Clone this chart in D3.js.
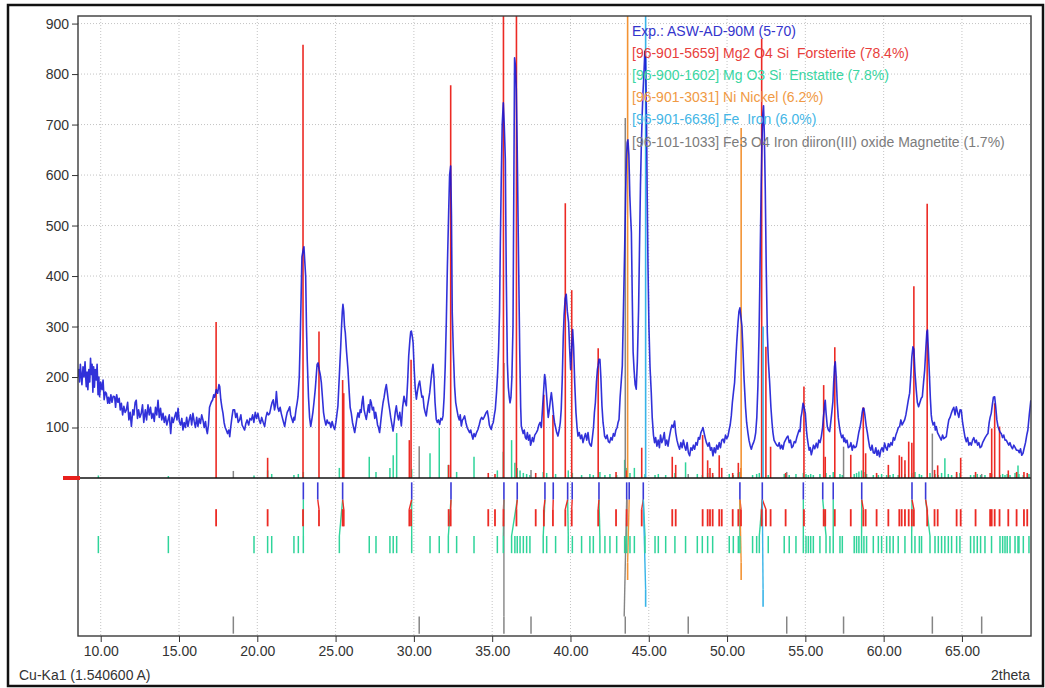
<!DOCTYPE html>
<html>
<head>
<meta charset="utf-8">
<script src="https://cdn.jsdelivr.net/npm/d3@7"></script>
<style>
  body { margin: 0; background: #fff; }
  text { font-family: "Liberation Sans", Arial, sans-serif; }
</style>
</head>
<body>
<div id="chart"></div>
<script>
// measured pattern, [2theta, counts]
var pattern = [
  [8.55,200],[8.60,215],[8.65,190],[8.70,225],[8.75,205],[8.80,185],[8.87,220],[8.93,200],[9.00,230],[9.05,195],
  [9.08,181],[9.13,210],[9.18,175],[9.24,215],[9.30,190],[9.35,237],[9.40,205],[9.45,225],[9.50,170],[9.55,220],
  [9.60,180],[9.65,215],[9.72,194],[9.77,225],[9.83,165],[9.88,200],[9.93,161],[10.00,190],[10.08,175],[10.15,194],
  [10.22,155],[10.30,170],[10.36,168],[10.45,148],[10.50,160],[10.57,148],[10.65,165],[10.72,150],[10.80,162],[10.89,161],
  [10.95,140],[11.02,165],[11.10,150],[11.18,158],[11.25,135],[11.32,148],[11.40,125],[11.48,142],[11.56,130],[11.64,135],
  [11.72,150],[11.80,115],[11.88,130],[11.96,102],[12.05,135],[12.12,125],[12.20,150],[12.27,154],[12.35,118],[12.42,135],
  [12.50,120],[12.59,128],[12.67,145],[12.75,110],[12.85,135],[12.93,115],[13.02,145],[13.10,125],[13.18,140],[13.26,118],
  [13.34,128],[13.42,112],[13.50,140],[13.58,125],[13.66,154],[13.74,120],[13.82,138],[13.90,115],[13.98,128],[14.06,110],
  [14.14,122],[14.22,105],[14.30,115],[14.38,125],[14.47,88],[14.55,120],[14.63,110],[14.72,121],[14.80,130],[14.87,115],
  [14.94,138],[15.02,112],[15.10,105],[15.18,118],[15.25,95],[15.33,110],[15.41,100],[15.49,120],[15.57,102],[15.65,115],
  [15.73,125],[15.81,105],[15.89,128],[15.97,112],[16.05,100],[16.13,120],[16.21,102],[16.29,118],[16.37,108],[16.45,125],
  [16.53,115],[16.61,100],[16.69,112],[16.76,95],[16.81,88],[16.88,105],[16.95,140],[17.06,150],[17.15,155],[17.22,165],
  [17.28,160],[17.38,175],[17.47,168],[17.55,185],[17.60,181],[17.67,155],[17.74,140],[17.81,128],[17.88,110],[17.95,100],
  [18.02,95],[18.10,88],[18.18,95],[18.24,82],[18.30,100],[18.38,120],[18.45,135],[18.55,135],[18.62,120],[18.70,128],
  [18.78,110],[18.87,115],[18.95,125],[19.03,105],[19.11,100],[19.19,95],[19.27,108],[19.35,115],[19.45,105],[19.53,118],
  [19.62,115],[19.70,125],[19.78,110],[19.87,130],[19.95,118],[20.04,128],[20.12,115],[20.20,108],[20.28,120],[20.38,110],
  [20.47,102],[20.55,120],[20.63,130],[20.71,125],[20.79,128],[20.87,140],[20.95,150],[21.02,155],[21.10,135],[21.16,145],
  [21.22,171],[21.30,140],[21.38,132],[21.46,140],[21.53,128],[21.61,118],[21.68,110],[21.75,102],[21.83,118],[21.91,130],
  [21.99,135],[22.07,141],[22.13,125],[22.20,118],[22.28,110],[22.34,120],[22.39,115],[22.47,135],[22.55,150],[22.60,161],
  [22.68,200],[22.74,273],[22.80,360],[22.85,438],[22.92,450],[22.98,458],[23.03,430],[23.09,399],[23.14,300],[23.19,234],
  [23.27,160],[23.34,120],[23.41,102],[23.48,115],[23.55,130],[23.62,150],[23.70,175],[23.76,200],[23.82,225],[23.88,228],
  [23.95,215],[24.02,205],[24.09,189],[24.16,160],[24.23,130],[24.30,116],[24.38,105],[24.46,115],[24.54,108],[24.62,110],
  [24.70,100],[24.78,112],[24.86,102],[24.94,96],[25.02,110],[25.08,125],[25.15,143],[25.22,190],[25.28,230],[25.32,255],
  [25.38,300],[25.43,330],[25.47,344],[25.52,330],[25.57,300],[25.62,288],[25.70,250],[25.79,215],[25.87,170],[25.93,140],
  [26.00,129],[26.08,110],[26.15,100],[26.22,90],[26.30,105],[26.36,118],[26.43,129],[26.50,120],[26.57,135],[26.63,130],
  [26.69,150],[26.75,162],[26.82,135],[26.89,125],[26.96,116],[27.03,130],[27.10,145],[27.16,130],[27.22,155],[27.28,149],
  [27.35,135],[27.42,140],[27.50,118],[27.56,130],[27.60,123],[27.68,105],[27.74,100],[27.81,90],[27.88,110],[27.95,130],
  [28.03,149],[28.10,160],[28.17,175],[28.24,185],[28.30,170],[28.38,150],[28.45,136],[28.52,120],[28.60,105],[28.67,93],
  [28.74,110],[28.81,130],[28.88,143],[28.95,125],[29.02,115],[29.10,130],[29.20,103],[29.28,140],[29.37,162],[29.45,150],
  [29.52,143],[29.60,190],[29.67,242],[29.75,275],[29.80,290],[29.84,291],[29.90,280],[29.95,268],[30.02,215],[30.08,180],
  [30.16,156],[30.22,170],[30.30,185],[30.37,192],[30.44,175],[30.51,160],[30.58,162],[30.65,140],[30.72,130],[30.79,123],
  [30.86,140],[30.94,155],[31.01,169],[31.08,190],[31.15,210],[31.22,225],[31.28,200],[31.35,150],[31.43,116],[31.50,110],
  [31.57,115],[31.65,106],[31.72,118],[31.80,115],[31.86,123],[31.93,160],[32.00,220],[32.07,308],[32.14,420],[32.22,525],
  [32.28,600],[32.35,618],[32.40,520],[32.45,327],[32.52,250],[32.60,182],[32.67,150],[32.75,135],[32.82,123],[32.90,115],
  [32.96,125],[33.03,103],[33.10,115],[33.17,118],[33.24,123],[33.32,110],[33.40,100],[33.48,95],[33.56,90],[33.63,95],
  [33.70,85],[33.77,77],[33.84,88],[33.92,82],[34.00,90],[34.09,96],[34.17,105],[34.25,115],[34.33,120],[34.41,116],
  [34.48,120],[34.55,125],[34.62,130],[34.69,133],[34.76,120],[34.82,105],[34.88,100],[34.94,96],[35.00,105],[35.07,110],
  [35.14,125],[35.20,136],[35.28,170],[35.35,210],[35.41,255],[35.47,330],[35.52,460],[35.58,591],[35.64,700],[35.71,743],
  [35.77,700],[35.84,631],[35.90,400],[35.97,228],[36.03,180],[36.09,160],[36.14,149],[36.20,160],[36.26,200],[36.33,301],
  [36.38,560],[36.43,832],[36.49,815],[36.54,770],[36.60,650],[36.69,420],[36.76,250],[36.82,140],[36.86,103],[36.92,95],
  [36.98,88],[37.05,95],[37.12,80],[37.18,77],[37.25,90],[37.32,75],[37.40,85],[37.45,65],[37.50,70],[37.57,80],
  [37.64,72],[37.72,85],[37.82,90],[37.90,95],[37.98,105],[38.06,110],[38.14,100],[38.22,140],[38.30,180],[38.35,205],
  [38.40,195],[38.46,170],[38.52,143],[38.58,120],[38.65,135],[38.72,155],[38.78,169],[38.85,150],[38.92,125],[38.98,110],
  [39.05,100],[39.12,90],[39.20,83],[39.28,95],[39.35,110],[39.41,136],[39.48,200],[39.54,280],[39.59,321],[39.66,355],
  [39.73,364],[39.80,330],[39.88,308],[39.94,260],[40.01,215],[40.07,250],[40.14,294],[40.20,260],[40.27,189],[40.35,130],
  [40.42,100],[40.48,83],[40.56,90],[40.64,78],[40.72,85],[40.80,70],[40.88,80],[40.96,88],[41.04,75],[41.12,90],
  [41.20,70],[41.27,65],[41.33,63],[41.40,80],[41.47,100],[41.53,130],[41.59,149],[41.66,190],[41.72,215],[41.76,222],
  [41.82,235],[41.88,235],[41.94,200],[42.01,143],[42.08,110],[42.14,95],[42.18,83],[42.26,78],[42.34,85],[42.42,72],
  [42.50,70],[42.58,80],[42.66,75],[42.74,88],[42.82,83],[42.90,95],[42.98,100],[43.04,110],[43.10,116],[43.17,160],
  [43.24,190],[43.31,222],[43.38,330],[43.46,453],[43.52,560],[43.57,631],[43.62,664],[43.67,670],[43.73,640],[43.79,560],
  [43.84,520],[43.89,486],[43.95,350],[44.00,250],[44.06,215],[44.13,185],[44.20,176],[44.27,230],[44.35,334],[44.42,480],
  [44.47,580],[44.52,651],[44.58,720],[44.63,763],[44.69,800],[44.75,845],[44.80,829],[44.86,700],[44.90,560],[44.95,420],
  [45.01,300],[45.08,220],[45.16,169],[45.22,120],[45.30,85],[45.37,70],[45.44,80],[45.52,63],[45.60,75],[45.68,60],
  [45.75,85],[45.83,70],[45.91,77],[45.99,90],[46.07,65],[46.15,75],[46.23,63],[46.31,80],[46.40,95],[46.48,105],
  [46.56,100],[46.65,113],[46.72,90],[46.80,75],[46.88,65],[46.97,57],[47.05,70],[47.13,60],[47.21,75],[47.29,63],
  [47.37,55],[47.45,70],[47.53,50],[47.61,44],[47.69,60],[47.77,55],[47.85,65],[47.93,57],[48.01,70],[48.09,65],
  [48.17,80],[48.25,77],[48.33,90],[48.40,95],[48.46,100],[48.53,90],[48.60,80],[48.68,70],[48.78,63],[48.86,70],
  [48.94,55],[49.02,60],[49.10,44],[49.18,60],[49.26,50],[49.34,65],[49.42,57],[49.50,70],[49.58,60],[49.66,75],
  [49.74,77],[49.82,70],[49.90,85],[49.98,78],[50.06,83],[50.13,95],[50.20,105],[50.27,123],[50.34,150],[50.41,170],
  [50.48,189],[50.55,230],[50.62,270],[50.70,308],[50.76,330],[50.82,337],[50.88,320],[50.95,301],[51.02,250],[51.08,200],
  [51.12,176],[51.18,140],[51.25,110],[51.33,90],[51.40,75],[51.47,65],[51.55,57],[51.62,65],[51.69,70],[51.76,77],
  [51.83,90],[51.90,120],[51.97,182],[52.04,280],[52.09,380],[52.12,453],[52.18,580],[52.23,664],[52.28,720],[52.33,737],
  [52.38,680],[52.44,572],[52.50,420],[52.57,288],[52.64,230],[52.72,189],[52.80,140],[52.87,110],[52.93,90],[53.00,75],
  [53.08,70],[53.17,65],[53.25,63],[53.33,70],[53.41,58],[53.49,65],[53.57,57],[53.65,70],[53.73,75],[53.81,80],
  [53.89,83],[53.97,70],[54.05,75],[54.13,60],[54.21,63],[54.29,72],[54.37,70],[54.45,80],[54.53,88],[54.60,95],
  [54.66,92],[54.72,120],[54.78,130],[54.85,148],[54.92,140],[55.00,128],[55.07,95],[55.12,80],[55.17,69],[55.24,55],
  [55.31,60],[55.38,46],[55.45,55],[55.52,65],[55.60,58],[55.70,69],[55.78,60],[55.86,75],[55.94,70],[56.02,82],
  [56.10,100],[56.15,120],[56.19,131],[56.24,148],[56.27,154],[56.32,130],[56.40,102],[56.47,95],[56.55,92],[56.62,110],
  [56.69,130],[56.76,152],[56.81,190],[56.86,220],[56.91,230],[56.97,200],[57.04,148],[57.10,120],[57.18,100],[57.25,88],
  [57.32,80],[57.40,85],[57.46,72],[57.51,79],[57.58,70],[57.66,75],[57.74,60],[57.83,62],[57.91,70],[57.99,55],
  [58.07,65],[58.15,60],[58.25,62],[58.33,75],[58.41,90],[58.49,100],[58.57,115],[58.63,130],[58.68,138],[58.74,138],
  [58.80,125],[58.89,102],[58.96,90],[59.03,75],[59.10,62],[59.18,55],[59.26,65],[59.34,50],[59.42,49],[59.50,60],
  [59.58,45],[59.66,55],[59.74,42],[59.82,55],[59.90,60],[59.98,52],[60.06,69],[60.14,60],[60.22,55],[60.30,68],
  [60.38,62],[60.46,70],[60.54,65],[60.62,80],[60.70,75],[60.78,85],[60.86,92],[60.94,100],[61.02,102],[61.10,115],
  [61.18,105],[61.26,110],[61.34,115],[61.42,125],[61.50,140],[61.58,155],[61.66,168],[61.73,200],[61.80,240],[61.87,260],
  [61.93,255],[62.00,210],[62.08,175],[62.15,150],[62.23,141],[62.32,150],[62.40,158],[62.47,161],[62.55,190],[62.62,214],
  [62.70,260],[62.76,290],[62.80,293],[62.86,250],[62.91,214],[62.98,160],[63.04,125],[63.08,115],[63.16,105],[63.24,110],
  [63.30,95],[63.36,102],[63.44,90],[63.52,85],[63.60,80],[63.68,75],[63.76,85],[63.84,78],[63.92,80],[64.00,82],
  [64.08,100],[64.16,115],[64.24,120],[64.32,128],[64.40,135],[64.48,140],[64.56,125],[64.64,141],[64.72,130],[64.80,120],
  [64.88,135],[64.96,134],[65.04,110],[65.12,95],[65.20,80],[65.28,72],[65.36,80],[65.44,65],[65.52,70],[65.60,65],
  [65.68,75],[65.76,80],[65.84,70],[65.92,75],[66.00,65],[66.08,70],[66.16,60],[66.24,62],[66.32,70],[66.40,75],
  [66.48,80],[66.58,85],[66.66,88],[66.74,110],[66.80,120],[66.87,128],[66.94,145],[67.01,160],[67.09,161],[67.16,140],
  [67.23,115],[67.30,102],[67.38,95],[67.45,90],[67.51,88],[67.59,80],[67.67,85],[67.75,75],[67.83,75],[67.91,70],
  [67.99,65],[68.07,70],[68.15,62],[68.23,58],[68.31,65],[68.40,60],[68.48,55],[68.58,55],[68.66,50],[68.74,58],
  [68.82,45],[68.90,49],[68.98,60],[69.06,70],[69.14,85],[69.21,95],[69.30,125],[69.40,154]
];

// reference patterns, [2theta, intensity]
var forsterite = [
  [17.37,309],[20.66,40],[22.92,858],[23.94,290],[25.45,194],[25.52,168],[29.71,75],[29.82,234],[32.22,26],[32.35,778],
  [34.75,10],[35.18,8],[35.72,1000],[36.55,1000],[37.78,10],[38.30,165],[38.88,125],[39.67,544],[40.08,372],[41.77,257],
  [42.91,12],[43.59,15],[44.55,60],[46.50,42],[46.72,26],[48.44,85],[48.76,35],[48.91,20],[49.08,10],[49.50,45],
  [49.66,20],[50.36,10],[50.72,30],[50.89,20],[52.21,870],[52.48,260],[52.78,62],[53.74,10],[54.91,181],[56.17,184],
  [56.27,42],[56.88,259],[57.90,46],[58.70,140],[58.85,49],[59.55,10],[60.30,26],[61.00,45],[61.15,42],[61.36,35],
  [61.60,72],[61.80,70],[61.93,380],[62.78,543],[63.25,16],[63.45,25],[64.66,12],[64.92,40],[65.87,12],[66.80,10],
  [66.90,98],[67.09,148],[67.40,102],[67.96,15],[68.49,12],[68.96,12],[69.17,10]
];
var enstatite = [
  [9.85,5],[14.32,4],[19.79,5],[20.66,15],[20.92,8],[22.34,6],[22.62,8],[22.94,12],[25.24,20],[27.15,42],
  [27.58,12],[28.47,20],[28.68,45],[28.90,89],[29.86,18],[31.03,49],[31.62,99],[32.20,26],[32.73,12],[33.84,42],
  [35.33,15],[35.71,52],[36.24,75],[36.45,30],[36.60,20],[36.78,15],[36.99,10],[37.20,8],[37.41,6],[38.26,12],
  [38.48,10],[39.05,8],[39.86,15],[40.12,10],[40.71,6],[41.24,8],[41.46,6],[41.88,12],[42.20,6],[42.52,8],
  [42.95,6],[43.46,36],[43.59,20],[43.80,10],[44.08,20],[44.76,8],[45.40,6],[45.61,8],[46.08,6],[46.67,10],
  [47.35,31],[48.10,8],[48.42,6],[48.76,10],[49.08,6],[50.14,8],[50.40,6],[50.72,10],[50.82,12],[51.63,6],
  [51.89,8],[52.06,10],[52.63,6],[53.65,8],[53.97,6],[54.40,8],[54.87,10],[55.04,8],[55.19,6],[55.34,8],
  [55.51,6],[55.93,8],[56.32,10],[56.57,6],[56.78,12],[57.21,8],[57.36,6],[58.12,8],[58.27,10],[58.42,13],
  [58.59,15],[58.74,12],[58.91,8],[59.34,6],[59.66,6],[59.87,8],[60.19,6],[60.40,6],[60.61,8],[60.93,6],
  [61.36,8],[61.79,10],[62.00,12],[62.28,8],[62.42,6],[62.96,10],[63.28,8],[63.49,6],[63.70,10],[63.91,39],
  [64.13,8],[64.34,6],[64.66,8],[64.87,10],[65.55,6],[65.77,6],[65.98,8],[66.19,6],[66.47,6],[66.89,8],
  [67.43,6],[67.60,8],[67.75,6],[67.89,8],[68.07,6],[68.39,10],[68.58,25],[68.64,8],[68.92,6],[69.28,8]
];
var nickel = [[43.65,1000],[50.90,693]];
var iron = [[44.80,1000],[52.30,300]];
var magnetite = [
  [18.47,14],[30.34,63],[35.75,228],[37.48,16],[43.50,713],[47.52,8],[53.81,12],[57.44,62],[63.11,88],[66.26,8]
];

// peak positions found in the measured pattern
var expPeaks = [22.94,23.86,25.45,29.86,32.37,35.75,36.60,38.37,38.90,39.82,40.11,41.82,43.59,43.75,44.65,
  50.82,52.25,54.87,56.11,56.78,58.60,61.81,62.68];

// matched pairs [exp peak, reference peak]
var foLinks = [[23.86,23.94],[25.45,25.52],[29.86,29.71],[32.37,32.35],[35.75,35.72],[36.60,36.55],[38.37,38.30],
  [38.90,38.88],[39.82,39.67],[40.11,40.08],[41.82,41.77],[43.59,43.59],[44.65,44.55],[50.82,50.89],[52.25,52.21],
  [52.25,52.48],[58.60,58.70],[61.81,61.93],[62.68,62.78]];
var enLinks = [[22.94,22.94],[25.45,25.24],[29.86,29.86],[32.37,32.20],[35.75,35.71],[36.60,36.24],[38.37,38.26],
  [39.82,39.86],[41.82,41.88],[43.59,43.59],[44.65,44.76],[50.82,50.82],[52.25,52.06],[54.87,54.87],[56.11,56.32],
  [56.78,56.78],[58.60,58.59],[61.81,61.79],[62.68,62.96]];
var niLinks = [[43.75,43.65],[50.82,50.90]];
var feLinks = [[44.65,44.80],[52.25,52.30]];
var magLinks = [[35.75,35.75],[43.59,43.43]];

var xTicks = [10,15,20,25,30,35,40,45,50,55,60,65];
var yTicks = [100,200,300,400,500,600,700,800,900];

var legendLines = [
  "Exp.: ASW-AD-90M (5-70)",
  "[96-901-5659] Mg2 O4 Si  Forsterite (78.4%)",
  "[96-900-1602] Mg O3 Si  Enstatite (7.8%)",
  "[96-901-3031] Ni Nickel (6.2%)",
  "[96-901-6636] Fe  Iron (6.0%)",
  "[96-101-1033] Fe3 O4 Iron diiron(III) oxide Magnetite (1.7%)"
];

var colors = {exp: "#1414d4", fo: "#ec2a24", en: "#2fd49a", ni: "#f39334", fe: "#38b4e8", mag: "#858585"};
var legendColors = ["#3434cc", "#e8403c", "#3ad6a2", "#f09a44", "#44b6e6", "#7c7c7c"];

var W = 1045, H = 688;
var plotL = 78, plotR = 1031, plotT = 16, plotB = 636;
var fs = 14;

var svg = d3.select("#chart").append("svg").attr("width", W).attr("height", H);

var x = d3.scaleLinear().domain([8.55, 69.41]).range([plotL, plotR]);
var y = d3.scaleLinear().domain([0, 915]).range([478, plotT]);
var rows = d3.scaleBand().domain(["exp","fo","en","ni","fe","mag"])
    .range([481, 635]).paddingInner(0.36).paddingOuter(0.05);

svg.append("defs").append("clipPath").attr("id", "plotclip")
  .append("rect").attr("x", plotL).attr("y", plotT).attr("width", plotR - plotL).attr("height", plotB - plotT);

// outer frame
svg.append("rect").attr("x", 8).attr("y", 5).attr("width", 1035).attr("height", 681)
  .attr("fill", "none").attr("stroke", "#111").attr("stroke-width", 2.5);

// grid
var grid = svg.append("g");
grid.selectAll(".vg").data(xTicks).enter().append("line")
  .attr("x1", d => x(d)).attr("x2", d => x(d)).attr("y1", plotT).attr("y2", plotB)
  .attr("stroke", "#c4c4c4").attr("stroke-dasharray", "1,2");
grid.selectAll(".hg").data(yTicks).enter().append("line")
  .attr("x1", plotL).attr("x2", plotR).attr("y1", d => y(d)).attr("y2", d => y(d))
  .attr("stroke", "#c4c4c4").attr("stroke-dasharray", "1,2");

var plot = svg.append("g").attr("clip-path", "url(#plotclip)");

function sticks(data, color, w) {
  plot.append("g").selectAll("line").data(data).enter().append("line")
    .attr("x1", d => x(d[0])).attr("x2", d => x(d[0]))
    .attr("y1", y(0)).attr("y2", d => y(d[1]))
    .attr("stroke", color).attr("stroke-width", w);
}
sticks(enstatite, colors.en, 1.5);
sticks(magnetite, colors.mag, 1.5);
sticks(forsterite, colors.fo, 1.6);
sticks(nickel, colors.ni, 1.6);
sticks(iron, colors.fe, 1.6);

// lower band: peak rows and match links
function rowTicks(pos, row, color, w) {
  plot.append("g").selectAll("line").data(pos).enter().append("line")
    .attr("x1", d => x(d)).attr("x2", d => x(d))
    .attr("y1", rows(row)).attr("y2", rows(row) + rows.bandwidth())
    .attr("stroke", color).attr("stroke-width", w);
}
function links(pairs, row, color) {
  plot.append("g").selectAll("line").data(pairs).enter().append("line")
    .attr("x1", d => x(d[0])).attr("x2", d => x(d[1]))
    .attr("y1", rows("exp") + rows.bandwidth()).attr("y2", rows(row))
    .attr("stroke", color).attr("stroke-width", 1.4);
}
links(enLinks, "en", colors.en);
links(foLinks, "fo", colors.fo);
links(magLinks, "mag", colors.mag);
links(niLinks, "ni", colors.ni);
links(feLinks, "fe", colors.fe);
rowTicks(expPeaks, "exp", "#3a3ad8", 1.6);
rowTicks(forsterite.map(d => d[0]), "fo", colors.fo, 1.8);
rowTicks(enstatite.map(d => d[0]), "en", colors.en, 1.5);
rowTicks(nickel.map(d => d[0]), "ni", colors.ni, 1.6);
rowTicks(iron.map(d => d[0]), "fe", colors.fe, 1.6);
rowTicks(magnetite.map(d => d[0]), "mag", colors.mag, 1.5);

// zero line
svg.append("line").attr("x1", plotL).attr("x2", plotR).attr("y1", y(0)).attr("y2", y(0))
  .attr("stroke", "#111").attr("stroke-width", 1.6);

var line = d3.line().x(d => x(d[0])).y(d => y(d[1]));
plot.append("path").datum(pattern)
  .attr("fill", "none").attr("stroke", colors.exp).attr("stroke-opacity", 0.88)
  .attr("stroke-width", 1.6).attr("stroke-linejoin", "round").attr("d", line);

// frame + axes
svg.append("rect").attr("x", plotL).attr("y", plotT).attr("width", plotR - plotL).attr("height", plotB - plotT)
  .attr("fill", "none").attr("stroke", "#3a3a3a").attr("stroke-width", 1.4);

var yAxis = svg.append("g").attr("transform", "translate(" + plotL + ",0)")
  .call(d3.axisLeft(y).tickValues(yTicks).tickSize(6).tickPadding(3).tickFormat(d3.format("d")));
var xAxis = svg.append("g").attr("transform", "translate(0," + plotB + ")")
  .call(d3.axisBottom(x).tickValues(xTicks).tickSize(6).tickPadding(4).tickFormat(d3.format(".2f")));
[yAxis, xAxis].forEach(function(a) {
  a.select(".domain").remove();
  a.selectAll("line").attr("stroke", "#333");
  a.selectAll("text").attr("font-size", fs).attr("fill", "#333")
    .attr("font-family", '"Liberation Sans", Arial, sans-serif');
});

svg.append("line").attr("x1", 63).attr("x2", 80).attr("y1", y(0)).attr("y2", y(0))
  .attr("stroke", "#e8201c").attr("stroke-width", 4);

svg.append("text").attr("x", 19).attr("y", 680).attr("font-size", fs).attr("fill", "#333")
  .text("Cu-Ka1 (1.540600 A)");
svg.append("text").attr("x", 1030).attr("y", 680).attr("font-size", fs).attr("fill", "#333")
  .attr("text-anchor", "end").text("2theta");

// legend
svg.append("g").selectAll("text").data(legendLines).enter().append("text")
  .attr("x", 632).attr("y", (d, i) => 35.5 + i * 22.2)
  .attr("font-size", fs).style("white-space", "pre")
  .attr("fill", (d, i) => legendColors[i]).text(d => d);
</script>
</body>
</html>
